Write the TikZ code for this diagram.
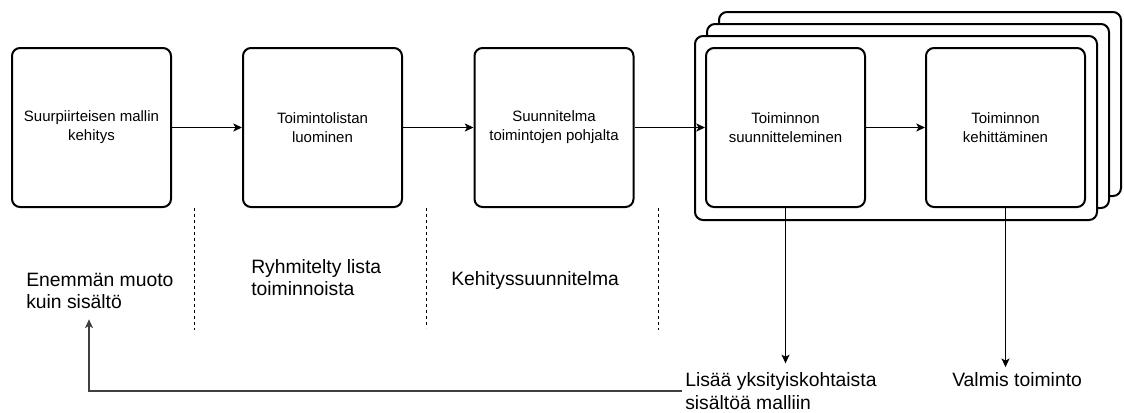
\documentclass[tikz,border=0pt]{standalone}
\usepackage{fontspec}
\setmainfont{Liberation Sans}
\usetikzlibrary{arrows.meta,calc}

\begin{document}
\begin{tikzpicture}[x=0.75pt,y=-0.75pt,
  stepbox/.style={draw=black,line width=1.5pt,rounded corners=6pt,fill=white,
    minimum width=119.25pt,minimum height=119.25pt,inner sep=2pt,align=center,
    font=\fontsize{11.25}{14.25}\selectfont},
  layer/.style={draw=black,line width=1.5pt,rounded corners=6pt,fill=white,
    minimum width=301.5pt,minimum height=138pt,inner sep=0pt},
  note/.style={anchor=west,align=left,inner xsep=0pt,inner ysep=0pt,
    font=\fontsize{14.5}{17}\selectfont},
  flow/.style={draw=black,line width=1.1pt,-{Stealth[length=6.5pt,width=6pt,inset=1.6pt]}},
  drop/.style={draw=black,line width=0.8pt,-{Stealth[length=6.5pt,width=6pt,inset=1.6pt]}},
  back/.style={draw=black!75,line width=0.8pt,-{Stealth[length=6.5pt,width=6pt,inset=1.6pt]}},
  divider/.style={draw=black,line width=0.75pt,dash pattern=on 2.5pt off 2pt}
]
\useasboundingbox (0,0) rectangle (1124,412);

% stacked frame holding the repeated work cycle
\node[layer] (stackback) at (920,104) {};
\node[layer] (stackmid) at (908,116) {};
\node[layer] (stack) at (896,128) {};

% process steps
\node[stepbox] (b1) at (91.5,127.5) {Suurpiirteisen mallin\\kehitys};
\node[stepbox] (b2) at (322.5,127.5) {Toimintolistan\\luominen};
\node[stepbox] (b3) at (554,127.5) {Suunnitelma\\toimintojen pohjalta};
\node[stepbox] (A) at (785.5,127.5) {Toiminnon\\suunnitteleminen};
\node[stepbox] (B) at (1005.5,127.5) {Toiminnon\\kehittäminen};

% phase separators
\draw[divider] (194,208) -- (194,330);
\draw[divider] (426,208) -- (426,328);
\draw[divider] (658,208) -- (658,330);

% outcome notes
\node[note,inner ysep=7.5pt] (enemman) at (26,291) {Enemmän muoto\\kuin sisältö};
\node[note] (ryhm) at (251,277.5) {Ryhmitelty lista\\toiminnoista};
\node[note] (kehit) at (451,280) {Kehityssuunnitelma};
\node[note,inner xsep=2.25pt,inner ysep=6.75pt] (lisaa) at (682,391) {Lisää yksityiskohtaista\\sisältöä malliin};
\node[note,inner ysep=3.75pt] (valmis) at (952,379.5) {Valmis toiminto};

% connectors
\draw[flow] (b1) -- (b2);
\draw[flow] (b2) -- (b3);
\draw[flow] (b3) -- (A);
\draw[flow] (A) -- (B);
\draw[drop] (A) -- (A |- lisaa.north);
\draw[drop] (B) -- (B |- valmis.north);
\draw[back] (lisaa.west) -| ($(enemman.south west)+(63,0)$);
\end{tikzpicture}
\end{document}
